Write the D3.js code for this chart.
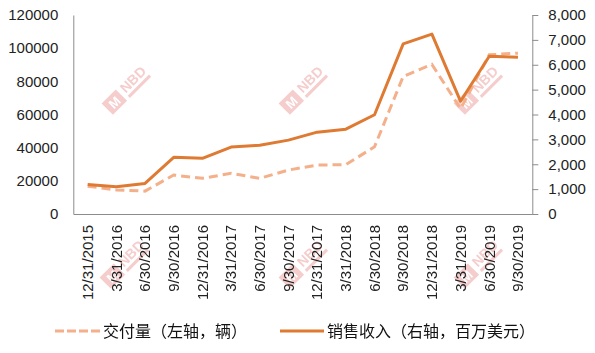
<!DOCTYPE html>
<html>
<head>
<meta charset="utf-8">
<script src="https://cdn.jsdelivr.net/npm/d3@7"></script>
<style>
  body { margin: 0; background: #fff; }
  svg { display: block; }
</style>
</head>
<body>
<div id="chart"></div>
<script>
const quarters = ["12/31/2015", "3/31/2016", "6/30/2016", "9/30/2016", "12/31/2016",
    "3/31/2017", "6/30/2017", "9/30/2017", "12/31/2017", "3/31/2018", "6/30/2018",
    "9/30/2018", "12/31/2018", "3/31/2019", "6/30/2019", "9/30/2019"];
// deliveries (left axis)
const deliveries = [16800, 14500, 13800, 23500, 21500, 24500, 21500, 26500,
    29500, 29800, 40500, 83000, 90200, 63500, 96000, 97000];
// revenue (right axis, million USD)
const revenue = [1190, 1100, 1230, 2280, 2240, 2690, 2760, 2970,
    3290, 3410, 3990, 6840, 7230, 4530, 6340, 6300];
const leftTicks = [0, 20000, 40000, 60000, 80000, 100000, 120000];
const rightTicks = [0, 1000, 2000, 3000, 4000, 5000, 6000, 7000, 8000];
const legendNames = ["交付量（左轴，辆）", "销售收入（右轴，百万美元）"];

const width = 595, height = 353;
const plot = {left: 73.3, right: 532.3, top: 15, bottom: 214};
const numFont = "'Liberation Sans', Arial, sans-serif";
const cjkFont = "'Noto Sans CJK SC', sans-serif";
const solidColor = "#df7a33";
const dashColor = "#f4b08a";
const axisColor = "#8c8c8c";

const svg = d3.select("#chart")
    .append("svg")
    .attr("width", width)
    .attr("height", height);

const x = d3.scaleBand()
    .domain(quarters)
    .range([plot.left, plot.right])
    .padding(0);

const yL = d3.scaleLinear()
    .domain([0, 120000])
    .range([plot.bottom, plot.top]);

const yR = d3.scaleLinear()
    .domain([0, 8000])
    .range([plot.bottom, plot.top]);

// faint NBD watermarks
const marks = [[120, 88], [297, 88], [472, 88], [118, 262], [297, 262], [472, 262]];
const wm = svg.append("g").attr("opacity", 0.45);
marks.forEach(([cx, cy]) => {
    const g = wm.append("g").attr("transform", `translate(${cx},${cy}) rotate(-45)`);
    g.append("rect")
        .attr("x", -24).attr("y", -2)
        .attr("width", 20).attr("height", 16)
        .attr("fill", "#e98f8f");
    g.append("text")
        .attr("x", -14).attr("y", 11)
        .attr("text-anchor", "middle")
        .attr("font-family", numFont)
        .attr("font-weight", "bold")
        .attr("font-size", 13)
        .attr("fill", "#fff")
        .text("M");
    g.append("text")
        .attr("x", 0).attr("y", 8)
        .attr("font-family", numFont)
        .attr("font-weight", "bold")
        .attr("font-size", 14)
        .attr("fill", "#e98f8f")
        .text("NBD");
    g.append("rect")
        .attr("x", 0).attr("y", 11)
        .attr("width", 30).attr("height", 3)
        .attr("fill", "#e98f8f");
});

// left axis
const gL = svg.append("g")
    .attr("transform", `translate(${plot.left},0)`)
    .call(d3.axisLeft(yL).tickValues(leftTicks).tickSize(0).tickPadding(15).tickFormat(d3.format("d")));
gL.select(".domain").attr("stroke", axisColor);
gL.selectAll("text")
    .attr("font-family", numFont)
    .attr("font-size", 15)
    .attr("fill", "#222");

// right axis
const gR = svg.append("g")
    .attr("transform", `translate(${plot.right},0)`)
    .call(d3.axisRight(yR).tickValues(rightTicks).tickSize(6).tickSizeOuter(0).tickPadding(10).tickFormat(d3.format(",")));
gR.select(".domain").attr("stroke", axisColor);
gR.selectAll("line").attr("stroke", axisColor);
gR.selectAll("text")
    .attr("font-family", numFont)
    .attr("font-size", 15)
    .attr("fill", "#222");

// bottom axis
const gB = svg.append("g")
    .attr("transform", `translate(0,${plot.bottom})`)
    .call(d3.axisBottom(x).tickSize(0).tickSizeOuter(0));
gB.select(".domain").attr("stroke", axisColor);
gB.selectAll("text")
    .attr("transform", "rotate(-90)")
    .attr("x", -11)
    .attr("y", 0)
    .attr("dy", "0.35em")
    .attr("text-anchor", "end")
    .attr("font-family", numFont)
    .attr("font-size", 15)
    .attr("fill", "#222");

// lines
const lineL = d3.line()
    .x((d, i) => x(quarters[i]) + x.bandwidth() / 2)
    .y(d => yL(d));
const lineR = d3.line()
    .x((d, i) => x(quarters[i]) + x.bandwidth() / 2)
    .y(d => yR(d));

svg.append("path")
    .datum(deliveries)
    .attr("d", lineL)
    .attr("fill", "none")
    .attr("stroke", dashColor)
    .attr("stroke-width", 3)
    .attr("stroke-dasharray", "9,5");

svg.append("path")
    .datum(revenue)
    .attr("d", lineR)
    .attr("fill", "none")
    .attr("stroke", solidColor)
    .attr("stroke-width", 3)
    .attr("stroke-linejoin", "round");

// legend
const legend = svg.append("g");
const legendItems = [
    {name: legendNames[0], color: dashColor, dash: "9,3", x0: 55, x1: 100},
    {name: legendNames[1], color: solidColor, dash: null, x0: 280, x1: 324}
];
legendItems.forEach(it => {
    legend.append("line")
        .attr("x1", it.x0).attr("x2", it.x1)
        .attr("y1", 331).attr("y2", 331)
        .attr("stroke", it.color)
        .attr("stroke-width", 3)
        .attr("stroke-dasharray", it.dash);
    legend.append("text")
        .attr("x", it.x1 + 3)
        .attr("y", 331)
        .attr("dy", "0.35em")
        .attr("font-family", cjkFont)
        .attr("font-size", 16)
        .attr("fill", "#111")
        .text(it.name);
});
</script>
</body>
</html>
